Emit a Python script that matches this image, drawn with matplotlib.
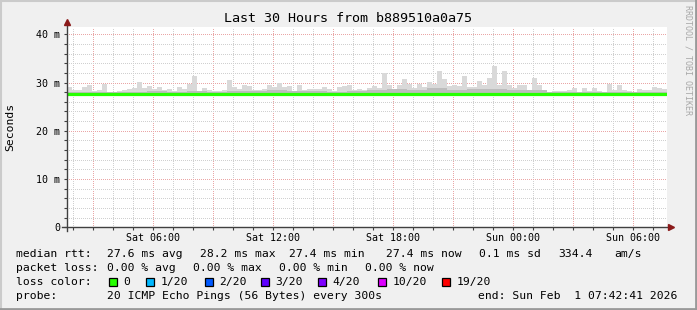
import matplotlib
matplotlib.use("Agg")
import matplotlib.pyplot as plt
from matplotlib.patches import Rectangle
from matplotlib.lines import Line2D
import pandas as pd

# time span of the graph (30 hours, 300s steps)
start = pd.Timestamp("2026-01-31 01:42:41")
end = pd.Timestamp("2026-02-01 07:42:41")

# smoke: highest ping per 15 minute slot (ms)
smoke_max = [
    29.0, 28.4, 28.5, 29.1, 29.5, 28.3, 28.4, 29.7, 28.0, 28.1,
    28.3, 28.4, 28.7, 28.8, 30.2, 28.8, 29.2, 28.6, 29.0, 28.5,
    28.6, 28.3, 29.0, 28.6, 29.6, 31.3, 28.3, 28.8, 28.4, 28.3,
    28.3, 28.4, 30.6, 29.0, 28.6, 29.4, 29.3, 28.4, 28.5, 28.7,
    29.4, 29.0, 29.9, 29.0, 29.2, 28.3, 29.4, 28.4, 28.6, 28.6,
    28.6, 29.0, 28.6, 28.3, 29.0, 29.2, 29.4, 28.4, 28.7, 28.5,
    28.8, 29.3, 28.8, 31.9, 29.5, 28.5, 29.4, 30.8, 29.6, 28.8,
    29.6, 29.0, 30.1, 29.6, 32.4, 30.8, 29.2, 29.5, 29.3, 31.3,
    29.0, 29.1, 30.3, 29.5, 31.0, 33.4, 29.4, 32.4, 29.5, 28.8,
    29.4, 29.5, 28.4, 31.0, 29.5, 28.4, 27.9, 28.2, 28.3, 28.2,
    28.4, 28.8, 27.9, 28.9, 28.2, 28.8, 28.3, 27.9, 29.7, 28.5,
    29.4, 28.5, 28.2, 27.9, 28.6, 28.4, 28.5, 29.1, 28.9, 28.7,
]
smoke_min = 27.35

# denser part of the smoke, per hour (ms)
smoke_mid = [
    28.1, 28.0, 28.0, 28.1, 28.2, 28.0, 28.3, 28.1, 28.2, 28.3,
    28.4, 28.3, 28.2, 28.1, 28.3, 28.5, 28.6, 28.4, 28.9, 28.5,
    28.6, 28.7, 28.5, 28.4, 28.1, 28.0, 28.1, 28.0, 28.1, 28.0,
]

# median rtt per hour (ms)
median = [
    27.6, 27.6, 27.6, 27.6, 27.6, 27.6, 27.6, 27.6, 27.6, 27.6,
    27.6, 27.6, 27.6, 27.6, 27.7, 27.6, 27.7, 27.7, 27.7, 27.6,
    27.7, 27.6, 27.6, 27.6, 27.6, 27.6, 27.6, 27.6, 27.6, 27.6,
]

label_times = pd.date_range("2026-01-31 06:00", periods=5, freq="6h")
y_ticks = [0, 10, 20, 30, 40]
y_labels = ["0", "10 m", "20 m", "30 m", "40 m"]

rtt_stats = ["27.6 ms avg", "28.2 ms max", "27.4 ms min", "27.4 ms now", "0.1 ms sd", "334.4", "am/s"]
loss_stats = ["0.00 % avg", "0.00 % max", "0.00 % min", "0.00 % now"]
loss_names = ["0", "1/20", "2/20", "3/20", "4/20", "10/20", "19/20"]
loss_colors = ["#26ff00", "#00b8ff", "#0059ff", "#5e00ff", "#7e00ff", "#dd00ff", "#ff0000"]

W, H = 697, 310
mono = "DejaVu Sans Mono"

fig = plt.figure(figsize=(W / 100, H / 100), dpi=100)
fig.patch.set_facecolor("#f0f0f0")

# plot area: x 67..667, y 27..227 px
ax = fig.add_axes([67 / W, 1 - 227.3 / H, 600 / W, 200 / H])
ax.set_facecolor("white")
for s in ax.spines.values():
    s.set_visible(False)
ax.set_xlim(start, end)
ax.set_ylim(0, 41.45)

# grid
dots = (0, (1, 2))
for t in pd.date_range("2026-01-31 02:00", end, freq="1h"):
    major = t.hour % 3 == 0
    ax.axvline(t, color="#eaa6a6" if major else "#d0d0d0", lw=0.72,
               ls=dots, zorder=1, antialiased=False)
for v in range(2, 42, 2):
    ax.axhline(v, color="#eaa6a6" if v % 10 == 0 else "#d0d0d0", lw=0.72,
               ls=dots, zorder=1, antialiased=False)

# smoke
edges = pd.date_range(start, periods=len(smoke_max) + 1, freq="15min")
ax.fill_between(edges, smoke_min, smoke_max + [smoke_max[-1]], step="post",
                color="#d9d9d9", lw=0, zorder=2)
hours = pd.date_range(start, periods=len(smoke_mid) + 1, freq="1h")
ax.fill_between(hours, smoke_min + 0.05, smoke_mid + [smoke_mid[-1]], step="post",
                color="#bdbdbd", lw=0, zorder=3)

# median line
ax.step(hours, median + [median[-1]], where="post", color=loss_colors[0],
        lw=2.3, zorder=4, solid_capstyle="butt")

# axes with arrows
ax.add_line(Line2D([-0.008, 1.0067], [0, 0], transform=ax.transAxes, color="#404040",
                   lw=1, clip_on=False, zorder=5))
ax.add_line(Line2D([0, 0], [-0.02, 1.025], transform=ax.transAxes, color="#404040",
                   lw=1, clip_on=False, zorder=5))
ax.plot([1.0067], [0], marker=">", ms=4.5, color="#8b1a1a", transform=ax.transAxes,
        clip_on=False, zorder=6)
ax.plot([0], [1.027], marker="^", ms=4.5, color="#8b1a1a", transform=ax.transAxes,
        clip_on=False, zorder=6)

ax.set_xticks(label_times)
ax.set_xticklabels([t.strftime("%a %H:%M") for t in label_times], fontfamily=mono, fontsize=7.2)
ax.set_xticks(pd.date_range("2026-01-31 02:00", end, freq="1h"), minor=True)
ax.set_yticks(y_ticks)
ax.set_yticklabels(y_labels, fontfamily=mono, fontsize=7.2)
ax.set_yticks(range(2, 42, 2), minor=True)
ax.tick_params(which="both", length=2, width=0.8, color="#404040", pad=3)
ax.tick_params(axis="x", pad=2)

def ftext(x, y, s, **kw):
    fig.text(x / W, 1 - y / H, s, fontfamily=mono, va="center", **kw)

ftext(348, 19, "Last 30 Hours from b889510a0a75", fontsize=9.6, ha="center")
ftext(10, 127, "Seconds", fontsize=8.2, ha="center", rotation=90)
ftext(688, 60, "RRDTOOL / TOBI OETIKER", fontsize=6, ha="center", rotation=270,
      color="#a8a8a8")

fs = 8.2
ftext(16, 254, "median rtt:", fontsize=fs)
for x, s in zip([107, 200, 289, 386, 479, 558, 614], rtt_stats):
    ftext(x, 254, s, fontsize=fs)
ftext(16, 268, "packet loss:", fontsize=fs)
for x, s in zip([107, 193, 279, 365], loss_stats):
    ftext(x, 268, s, fontsize=fs)
ftext(16, 282, "loss color:", fontsize=fs)
for x, s, c in zip([109, 146, 205, 261, 318, 378, 442], loss_names, loss_colors):
    fig.patches.append(Rectangle((x / W, 1 - 286 / H), 8 / W, 8 / H, transform=fig.transFigure,
                                 facecolor=c, edgecolor="black", lw=0.9))
    ftext(x + 14.5, 282, s, fontsize=fs)
ftext(16, 296, "probe:", fontsize=fs)
ftext(107, 296, "20 ICMP Echo Pings (56 Bytes) every 300s", fontsize=fs)
ftext(478, 296, "end: Sun Feb  1 07:42:41 2026", fontsize=fs)

# 3d border
fig.add_artist(Line2D([0, 1], [1 - 1 / H, 1 - 1 / H], transform=fig.transFigure, color="#cbcbcb", lw=1.5))
fig.add_artist(Line2D([1 / W, 1 / W], [0, 1], transform=fig.transFigure, color="#cbcbcb", lw=1.5))
fig.add_artist(Line2D([0, 1], [1.5 / H, 1.5 / H], transform=fig.transFigure, color="#999999", lw=2))
fig.add_artist(Line2D([1 - 1.5 / W, 1 - 1.5 / W], [0, 1], transform=fig.transFigure, color="#999999", lw=2))

fig.savefig("out.png", dpi=100, facecolor=fig.get_facecolor())
